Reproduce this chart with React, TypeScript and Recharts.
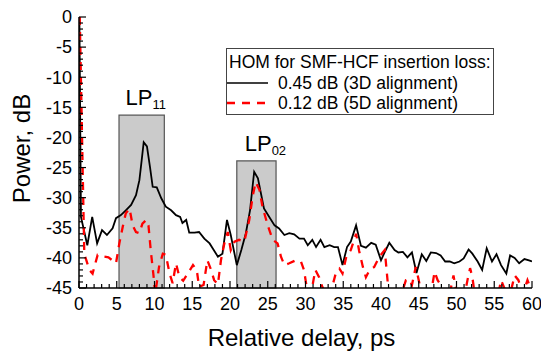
import React from 'react';
import { LineChart, Line, XAxis, YAxis, ReferenceArea, Legend } from 'recharts';

// HOM measurement: power vs relative delay
const blackDelay = [0.05, 0.26, 1.1, 1.75, 2.4, 3.05, 3.7, 4.45, 4.9, 5.55, 6.2, 6.9, 7.55, 8.0, 8.3, 8.57, 9.0, 9.4, 9.76, 10.3, 10.9, 11.5, 12.2, 12.85, 13.4, 13.7, 14.2, 14.6, 15.3, 15.9, 16.6, 17.3, 17.7, 18.4, 19.0, 19.6, 20.1, 20.9, 21.5, 22.1, 22.65, 23.2, 23.7, 24.1, 24.5, 25.2, 25.9, 26.5, 27.2, 27.85, 28.5, 29.2, 29.8, 30.3, 30.9, 31.4, 32.0, 32.5, 33.2, 33.8, 34.3, 34.9, 35.5, 36.0, 36.7, 37.35, 38.0, 38.7, 39.3, 40.0, 40.4, 41.1, 41.8, 42.3, 42.9, 43.5, 44.1, 44.7, 45.4, 46.0, 46.6, 47.3, 47.9, 48.5, 49.1, 49.7, 50.4, 50.95, 51.6, 52.1, 52.8, 53.4, 54.0, 54.7, 55.3, 55.9, 56.6, 57.1, 57.7, 58.3, 59.0, 59.6, 60];
const blackPower = [0, -33.2, -37.9, -33.2, -37.6, -35.4, -36.2, -35.1, -33.4, -32.9, -32.1, -31.2, -29.6, -27.1, -23.8, -20.8, -21.5, -24.9, -28.2, -28.3, -30.1, -31.5, -32.1, -32.9, -33.2, -34.2, -33.7, -35.8, -35.8, -35.7, -36.8, -37.6, -38.4, -39.8, -39.3, -33.7, -36.2, -41.2, -38.7, -35.9, -32.1, -25.7, -26.8, -29.3, -31.8, -33.2, -34.6, -35.1, -36.2, -35.9, -36.1, -36.8, -36.8, -37.9, -37.0, -38.2, -37.0, -38.2, -37.9, -38.2, -38.2, -41.2, -38.2, -37.3, -34.6, -38.0, -38.3, -37.5, -37.8, -40.4, -39.3, -37.5, -38.7, -39.1, -39.0, -39.9, -39.1, -42.5, -39.4, -40.5, -39.1, -39.2, -39.6, -40.6, -40.6, -40.9, -40.6, -40.1, -38.6, -39.3, -40.6, -42.0, -38.4, -40.6, -39.4, -41.2, -42.6, -39.6, -40.0, -40.9, -40.2, -40.4, -40.6];

const redDelay = [0.1, 0.7, 1.37, 1.8, 2.47, 3.35, 3.9, 4.9, 5.34, 5.8, 6.2, 6.7, 7.1, 7.55, 8.0, 8.4, 8.9, 9.2, 9.5, 9.84, 10.1, 10.6, 11.1, 11.5, 12.0, 12.4, 12.85, 13.3, 13.8, 14.4, 15.1, 15.6, 15.9, 16.5, 17.0, 17.5, 17.9, 18.4, 18.8, 19.25, 19.7, 20.1, 20.6, 21.2, 21.9, 22.55, 23.0, 23.4, 23.9, 24.3, 25.0, 25.65, 26.3, 26.75, 27.2, 27.85, 28.7, 29.4, 29.8, 30.3, 30.8, 31.3, 31.8, 32.2, 32.8, 33.5, 34.0, 34.5, 34.9, 35.4, 36.0, 36.7, 37.1, 37.6, 38.0, 38.5, 39.1, 39.8, 40.5, 40.9, 41.3, 42.0, 42.7, 43.3, 43.75, 44.1, 44.6, 45.0, 45.3, 46.0, 46.6, 47.1, 47.5, 47.9, 48.5, 49.1, 49.6, 49.9, 50.5, 51.1, 51.5, 51.8, 52.1, 52.3, 53.0, 54.0, 55.0, 55.7, 55.9, 56.5, 57.3, 57.7, 58.2, 58.8, 59.4, 59.8, 60.0];
const redPower = [0, -39.3, -42.0, -42.6, -39.5, -39.8, -39.9, -40.9, -37.6, -34.8, -32.6, -31.8, -34.6, -35.7, -35.9, -34.3, -33.7, -34.6, -38.7, -42.6, -46, -41.5, -39.3, -39.5, -42.6, -44.2, -40.9, -43.2, -43.8, -42.6, -41.2, -42.0, -44.8, -44.5, -40.4, -42.0, -43.7, -44.4, -40.4, -37.6, -35.7, -38.7, -37.3, -37.0, -37.3, -33.7, -29.8, -27.4, -28.7, -31.5, -34.6, -37.0, -37.6, -39.8, -41.2, -40.9, -40.4, -40.6, -42.0, -46, -45.5, -42.0, -43.2, -44.7, -46.5, -45, -42.6, -41.8, -42.6, -39.8, -38.7, -36.0, -38.8, -41.5, -43.2, -42.0, -41.5, -39.8, -38.7, -44.2, -46.5, -47, -46, -43.7, -43.5, -44.5, -41.5, -43.7, -45.5, -47, -46, -42.3, -43.7, -44.5, -46.5, -46, -42.9, -45, -47, -46, -43.4, -41.7, -43.2, -45, -47, -47.5, -46.5, -45, -43.7, -45.5, -45, -42.9, -43.7, -46, -43.7, -45, -45.5];

// series names / colours, in legend order
const seriesNames = ['0.45 dB (3D alignment)', '0.12 dB (5D alignment)'];
const seriesColors = ['#000000', '#ff0000'];
const legendTitle = 'HOM for SMF-HCF insertion loss:';

// mode windows [start, end] in ps and box top in dB
const lp11Range = [5.3, 11.3];
const lp11Top = -16.3;
const lp02Range = [20.9, 26.1];
const lp02Top = -23.9;

const xTicks = Array.from({ length: 61 }, (_, i) => i);
const yTicks = Array.from({ length: 46 }, (_, i) => -45 + i);

const blackData = blackDelay.map((x, i) => ({ x, y: blackPower[i] }));
const redData = redDelay.map((x, i) => ({ x, y: redPower[i] }));

const FONT = '"Liberation Sans", Arial, sans-serif';
const DASH = '8 7';

const XTick = (props: any) => {
  const { x, y, payload } = props;
  const major = payload.value % 5 === 0;
  return (
    <g>
      <line x1={x} y1={y} x2={x} y2={y - (major ? 7 : 4)} stroke="#000" strokeWidth={1.2} />
      {major && (
        <text x={x} y={y + 22} textAnchor="middle" fontSize={18} fontFamily={FONT} fill="#000">
          {payload.value}
        </text>
      )}
    </g>
  );
};

const YTick = (props: any) => {
  const { x, y, payload } = props;
  const major = payload.value % 5 === 0;
  return (
    <g>
      <line x1={x} y1={y} x2={x + (major ? 7 : 4)} y2={y} stroke="#000" strokeWidth={1.2} />
      {major && (
        <text x={x - 7} y={y} dy="0.35em" textAnchor="end" fontSize={18} fontFamily={FONT} fill="#000">
          {payload.value}
        </text>
      )}
    </g>
  );
};

const modeLabel = (sub: string, dx: number) => (props: any) => {
  const vb = props.viewBox;
  return (
    <text x={vb.x + vb.width / 2 + dx} y={vb.y - 10} textAnchor="middle" fontSize={22} fontFamily={FONT} fill="#000">
      LP<tspan fontSize={13} dy={4}>{sub}</tspan>
    </text>
  );
};

const renderLegend = () => (
  <div
    style={{
      width: 268,
      height: 67,
      boxSizing: 'border-box',
      border: '1px solid #444',
      background: '#fff',
      padding: '3px 0 0 2px',
      fontFamily: FONT,
      fontSize: 17.5,
      lineHeight: '20.5px',
      color: '#000',
      textAlign: 'left',
      whiteSpace: 'nowrap',
    }}
  >
    <div>{legendTitle}</div>
    {seriesNames.map((name, i) => (
      <div key={name} style={{ display: 'flex', alignItems: 'center', marginLeft: -2, height: 20.5 }}>
        <svg width={41} height={10} style={{ marginRight: 10 }}>
          <line
            x1={0}
            y1={5}
            x2={41}
            y2={5}
            stroke={seriesColors[i]}
            strokeWidth={i === 1 ? 2.3 : 1.5}
            strokeDasharray={i === 1 ? DASH : undefined}
          />
        </svg>
        <span>{name}</span>
      </div>
    ))}
  </div>
);

export default function App() {
  return (
    <div style={{ position: 'absolute', left: 0, top: 0, width: 541, height: 352, background: '#fff' }}>
      <LineChart width={541} height={352} margin={{ top: 17, right: 9, bottom: 0, left: 0 }}>
        <XAxis
          type="number"
          dataKey="x"
          domain={[0, 60]}
          allowDataOverflow
          ticks={xTicks}
          interval={0}
          tickSize={0}
          tickMargin={0}
          tickLine={false}
          tick={XTick}
          height={64}
          axisLine={{ stroke: '#000', strokeWidth: 1.5 }}
          label={{
            content: (p: any) => (
              <text
                x={p.viewBox.x + p.viewBox.width / 2 - 4}
                y={p.viewBox.y + 58}
                textAnchor="middle"
                fontSize={24}
                fontFamily={FONT}
                fill="#000"
              >
                Relative delay, ps
              </text>
            ),
          }}
        />
        <XAxis xAxisId="top" orientation="top" type="number" domain={[0, 60]} height={0} tick={false} tickLine={false} axisLine={{ stroke: '#000', strokeWidth: 1.5 }} />
        <YAxis
          type="number"
          domain={[-45, 0]}
          allowDataOverflow
          ticks={yTicks}
          interval={0}
          tickSize={0}
          tickMargin={0}
          tickLine={false}
          tick={YTick}
          width={79}
          axisLine={{ stroke: '#000', strokeWidth: 1.5 }}
          label={{
            content: (p: any) => (
              <text
                transform={`translate(${p.viewBox.x + 21}, ${p.viewBox.y + p.viewBox.height / 2 - 4}) rotate(-90)`}
                textAnchor="middle"
                dominantBaseline="central"
                fontSize={24}
                fontFamily={FONT}
                fill="#000"
              >
                Power, dB
              </text>
            ),
          }}
        />
        <YAxis yAxisId="right" orientation="right" type="number" domain={[-45, 0]} width={0} tick={false} tickLine={false} axisLine={{ stroke: '#000', strokeWidth: 1.5 }} />
        <ReferenceArea
          x1={lp11Range[0]}
          x2={lp11Range[1]}
          y1={-45}
          y2={lp11Top}
          fill="#cbcbcb"
          fillOpacity={1}
          stroke="#555"
          strokeWidth={1.2}
          label={{ content: modeLabel('11', 4) }}
        />
        <ReferenceArea
          x1={lp02Range[0]}
          x2={lp02Range[1]}
          y1={-45}
          y2={lp02Top}
          fill="#cbcbcb"
          fillOpacity={1}
          stroke="#555"
          strokeWidth={1.2}
          label={{ content: modeLabel('02', 9) }}
        />
        <Line
          data={blackData}
          dataKey="y"
          name={seriesNames[0]}
          type="linear"
          stroke={seriesColors[0]}
          strokeWidth={1.8}
          dot={false}
          activeDot={false}
          isAnimationActive={false}
        />
        <Line
          data={redData}
          dataKey="y"
          name={seriesNames[1]}
          type="linear"
          stroke={seriesColors[1]}
          strokeWidth={2.3}
          strokeDasharray={DASH}
          dot={false}
          activeDot={false}
          isAnimationActive={false}
        />
        <Legend
          layout="vertical"
          align="center"
          verticalAlign="middle"
          content={renderLegend}
          wrapperStyle={{ left: 226, top: 48, width: 268, height: 67 }}
        />
      </LineChart>
    </div>
  );
}
